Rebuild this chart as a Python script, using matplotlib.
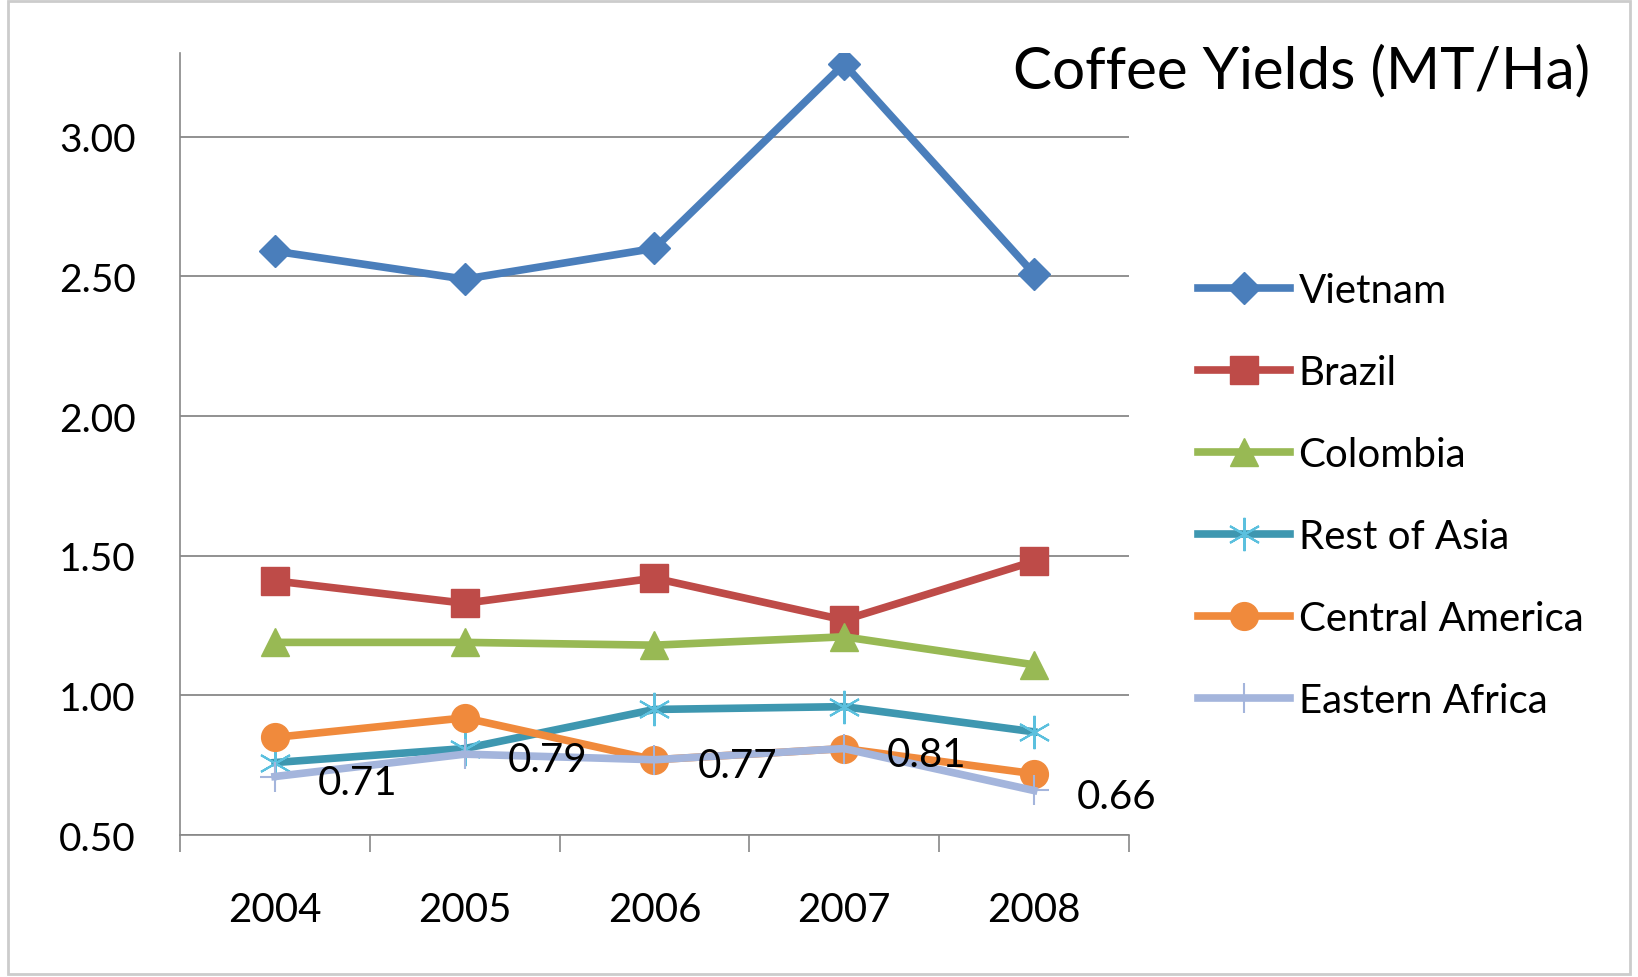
import numpy as np
import matplotlib.pyplot as plt
from matplotlib.ticker import FixedLocator, NullFormatter

plt.rcParams['font.family'] = ['Lato', 'DejaVu Sans']

years = ['2004', '2005', '2006', '2007', '2008']
vietnam = [2.59, 2.49, 2.60, 3.26, 2.51]
brazil = [1.41, 1.33, 1.42, 1.27, 1.48]
colombia = [1.19, 1.19, 1.18, 1.21, 1.11]
rest_asia = [0.76, 0.81, 0.95, 0.96, 0.87]
central_am = [0.85, 0.92, 0.77, 0.81, 0.72]
east_africa = [0.71, 0.79, 0.77, 0.81, 0.66]

series = [
    ('Vietnam', vietnam, '#4A7EBB', 'D', 16),
    ('Brazil', brazil, '#BE4B48', 's', 20),
    ('Colombia', colombia, '#98B954', '^', 20),
    ('Rest of Asia', rest_asia, '#3E97B0', (6, 2, 0), 24),
    ('Central America', central_am, '#F08A3C', 'o', 20),
    ('Eastern Africa', east_africa, '#A4B5DC', '+', 22),
]

fig = plt.figure(figsize=(16.38, 9.78), dpi=100)
ax = fig.add_axes([0.110, 0.145, 0.579, 0.800])

x = np.arange(len(years)) + 0.5
for name, vals, col, mk, ms in series:
    mec = col
    if name == 'Rest of Asia':
        mec = '#5BC0DE'
    ax.plot(x, vals, color=col, lw=5.5, marker=mk, markersize=ms,
            markeredgecolor=mec, markeredgewidth=1.5 if mk in ['+', (6, 2, 0)] else 1,
            label=name, solid_joinstyle='round')

for xi, v in zip(x, east_africa):
    ax.annotate('%.2f' % v, (xi, v), xytext=(31, -4), textcoords='offset points',
                fontsize=29, va='center', ha='left', color='black')

ax.set_xlim(0, 5)
ax.set_ylim(0.5, 3.3)
ax.set_yticks([0.5, 1.0, 1.5, 2.0, 2.5, 3.0])
ax.set_yticklabels(['0.50', '1.00', '1.50', '2.00', '2.50', '3.00'], fontsize=28)
ax.xaxis.set_major_locator(FixedLocator([0, 1, 2, 3, 4, 5]))
ax.xaxis.set_major_formatter(NullFormatter())
ax.set_xticks(x, minor=True)
ax.set_xticklabels(years, minor=True, fontsize=29)
ax.tick_params(axis='x', which='major', length=12, color='#888888', width=1.2)
ax.tick_params(axis='x', which='minor', length=0, pad=40)
ax.tick_params(axis='y', length=0, pad=32)
ax.grid(axis='y', color='#888888', lw=1.3)
ax.set_axisbelow(True)
for s in ['top', 'right']:
    ax.spines[s].set_visible(False)
ax.spines['left'].set_color('#888888')
ax.spines['bottom'].set_color('#888888')
ax.spines['left'].set_linewidth(1.2)
ax.spines['bottom'].set_linewidth(1.2)

ax.legend(loc='upper left', bbox_to_anchor=(1.073, 0.72), frameon=False,
          fontsize=29, handlelength=2.3, handletextpad=0.2, labelspacing=1.12,
          borderaxespad=0, borderpad=0)

fig.text(0.971, 0.927, 'Coffee Yields (MT/Ha)', fontsize=42, ha='right', va='center')

fig.patches.append(plt.Rectangle((0.005, 0.003), 0.99, 0.995, transform=fig.transFigure,
                                 fill=False, edgecolor='#cccccc', lw=2))

fig.savefig('out.png')
